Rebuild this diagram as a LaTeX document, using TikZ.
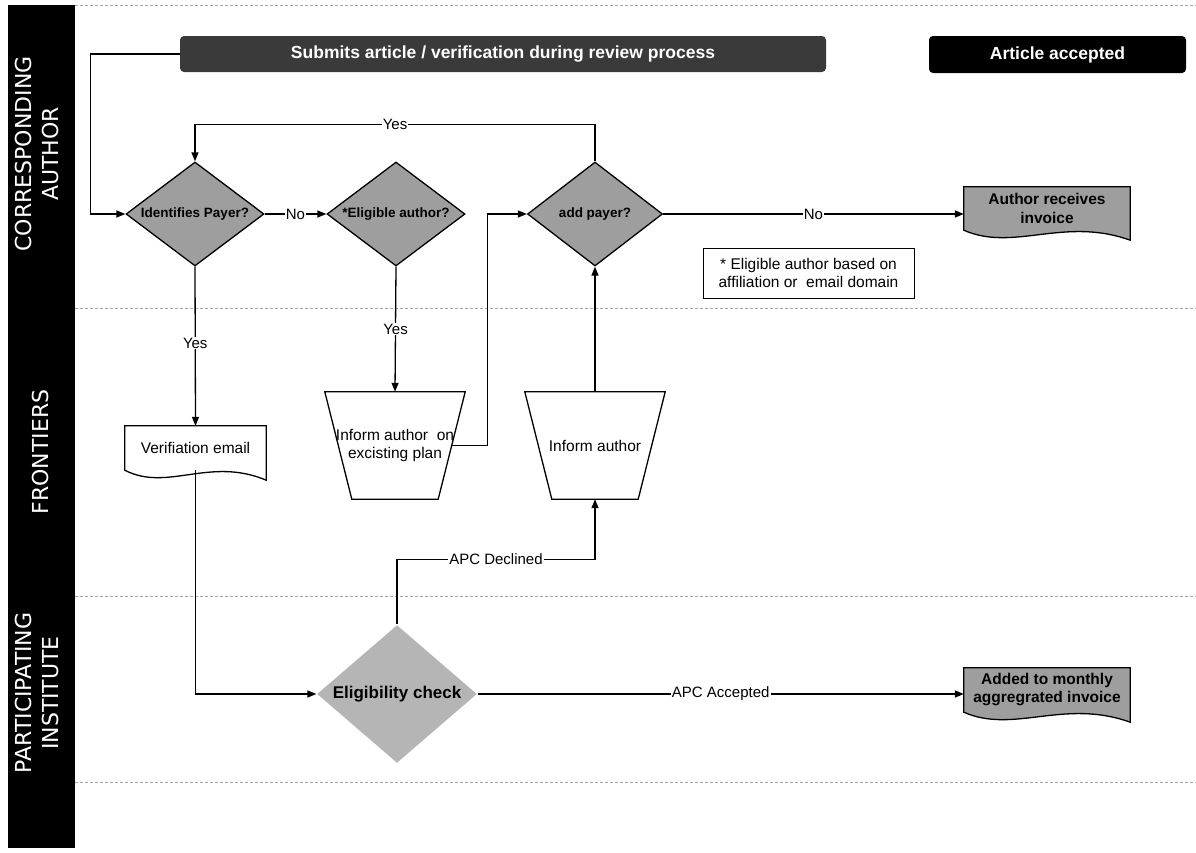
\documentclass[tikz,border=0pt]{standalone}
\usepackage{fontspec}
\setmainfont{Liberation Sans}
\newfontfamily\lanefont{DejaVu Sans}
\usetikzlibrary{shapes.geometric,arrows.meta,calc,backgrounds}
\definecolor{bannergray}{HTML}{3A3A3A}
\definecolor{shade}{HTML}{9E9E9E}
\definecolor{lightshade}{HTML}{B5B5B5}
\begin{document}
\begin{tikzpicture}[x=1pt,y=-1pt,
  every node/.style={font=\fontsize{15.5}{18.5}\selectfont},
  arr/.style={line width=1.3pt,-{Triangle[length=9pt,width=7pt]}},
  lbl/.style={fill=white,inner sep=1pt,font=\fontsize{15}{18}\selectfont},
  laneline/.style={densely dashed,gray!70,line width=0.6pt},
  lanelabel/.style={text=white,rotate=90,align=center,font=\lanefont\fontsize{22}{26.5}\selectfont},
  banner/.style={rounded corners=4pt,inner sep=0pt,text=white,font=\bfseries\fontsize{17.5}{20}\selectfont},
  decision/.style={diamond,aspect=1.33,draw=black,line width=1.3pt,fill=shade,inner sep=0pt,
    minimum width=138,minimum height=104,font=\bfseries\fontsize{13.5}{16}\selectfont},
  docbox/.style={inner sep=0pt,align=center},
  trapbox/.style={inner sep=0pt,align=center,minimum width=140,minimum height=107}
]
  \newcommand{\docShape}[2]{
    \begin{pgfonlayer}{background}
      \filldraw[line width=1.3pt,fill=#2] (#1.north west) -- (#1.north east) -- ([yshift=-10]#1.south east)
        .. controls ($(#1.south west)!0.6!(#1.south east)+(0,-14)$) and ($(#1.south west)!0.3!(#1.south east)+(0,22)$) .. (#1.south west) -- cycle;
    \end{pgfonlayer}
  }
  \newcommand{\trapShape}[1]{
    \draw[line width=1.3pt] (#1.north west) -- (#1.north east) -- ([xshift=-27]#1.south east) -- ([xshift=27]#1.south west) -- cycle;
  }
  \useasboundingbox (0,0) rectangle (1196,852);

  % swimlanes
  \fill[black] (8,5) rectangle (75,848);
  \draw[laneline] (75,5) -- (1196,5);
  \draw[laneline] (75,308) -- (1196,308);
  \draw[laneline] (75,596) -- (1196,596);
  \draw[laneline] (75,782) -- (1196,782);
  \node[lanelabel] (lanea) at (37,154) {CORRESPONDING\\AUTHOR};
  \node[lanelabel] (laneb) at (40,452) {FRONTIERS};
  \node[lanelabel] (lanec) at (37,693) {PARTICIPATING\\INSTITUTE};

  % corresponding author
  \node[banner,fill=bannergray,minimum width=646,minimum height=36] (submit) at (503,54) {Submits article / verification during review process};
  \node[banner,fill=black,minimum width=257,minimum height=37] (accepted) at (1057.5,54.5) {Article accepted};
  \node[decision] (payer) at (195,214) {Identifies Payer?};
  \node[decision] (eligible) at (396,214) {*Eligible author?};
  \node[decision,minimum width=135] (addpayer) at (595,214) {add payer?};
  \node[docbox,minimum width=166,minimum height=43,font=\bfseries\fontsize{15.5}{19}\selectfont] (invoice) at (1047,208.5) {Author receives\\invoice};
  \docShape{invoice}{shade}
  \node[draw,line width=0.8pt,align=center,minimum width=211,minimum height=50,inner sep=0pt] (note) at (808.5,273) {* Eligible author based on\\affiliation or~ email domain};

  % frontiers
  \node[docbox,minimum width=141,minimum height=44] (verif) at (195.5,448) {Verifiation email};
  \docShape{verif}{white}
  \node[trapbox] (plan) at (395,445.5) {Inform author~ on\\excisting plan};
  \trapShape{plan}
  \node[trapbox] (inform) at (595,445.5) {Inform author};
  \trapShape{inform}

  % participating institute
  \node[decision,draw=none,fill=lightshade,aspect=1.16,minimum width=160,minimum height=138,
    font=\bfseries\fontsize{17}{20}\selectfont] (check) at (397,694) {Eligibility check};
  \node[docbox,minimum width=166,minimum height=44,font=\bfseries\fontsize{15.5}{18}\selectfont] (aggregated) at (1047,690) {Added to monthly\\aggregrated invoice};
  \docShape{aggregated}{shade}

  % connectors
  \draw[arr] (submit.west) -- ++(-89,0) |- (payer.west);
  \draw[arr] (payer.east) -- node[lbl] (noa) {No} (eligible.west);
  \draw[arr] (addpayer.north) -- ++(0,-37) -| node[lbl,pos=0.25] (yesa) {Yes} (payer.north);
  \draw[arr] (payer.south) -- node[lbl,pos=0.48] (yesb) {Yes} (verif.north);
  \draw[arr] (eligible.south) -- node[lbl] (yesc) {Yes} (plan.north);
  \draw[arr] ([xshift=-13.5]plan.east) -- ++(36,0) |- (addpayer.west);
  \draw[arr] (addpayer.east) -- node[lbl] (nob) {No} (addpayer.east -| invoice.west);
  \draw[arr] (inform.north) -- (addpayer.south);
  \draw[arr] (check.north) -- ++(0,-65) -| node[lbl,pos=0.25] (declined) {APC Declined} (inform.south);
  \draw[arr] (verif.south) |- (check.west);
  \draw[arr] (check.east) -- node[lbl] (acceptedlbl) {APC Accepted} (check.east -| aggregated.west);
\end{tikzpicture}
\end{document}
